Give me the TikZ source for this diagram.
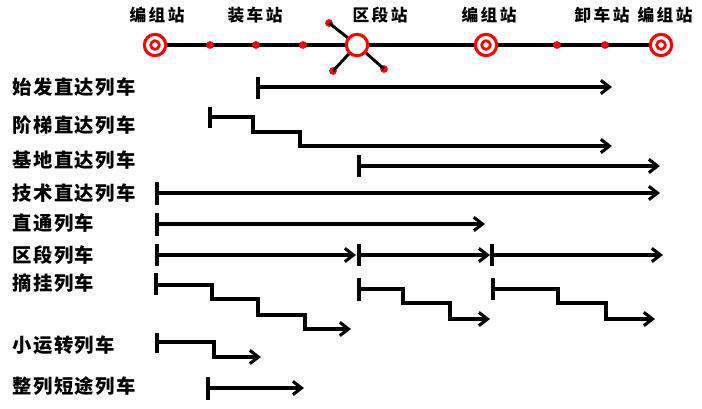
\documentclass[tikz,border=0pt]{standalone}
\usepackage{fontspec}
\newfontfamily\cjkrow{Noto Sans CJK SC}[LetterSpace=8]
\newfontfamily\cjktop{Noto Sans CJK SC}[LetterSpace=15]
\usetikzlibrary{arrows.meta}
\definecolor{stred}{RGB}{255,0,0}
\begin{document}
\begin{tikzpicture}[x=0.75pt,y=-0.75pt,
  rowlabel/.style={anchor=west,inner sep=0pt,font=\cjkrow\bfseries\fontsize{14.5pt}{16pt}\selectfont},
  toplabel/.style={inner sep=0pt,font=\cjktop\bfseries\fontsize{12.5pt}{14pt}\selectfont},
  trk/.style={line width=2.3pt,black},
  arr/.style={trk,-{Straight Barb[length=6.5pt,width=10pt]}},
  tickmark/.style={line width=2.6pt,black},
  reddot/.style={circle,fill=stred,draw=none,minimum size=5.8pt,inner sep=0pt},
  bigstn/.style={circle,draw=stred,line width=2.3pt,fill=white,minimum size=16pt,inner sep=0pt},
  innerstn/.style={circle,draw=stred,line width=2pt,fill=white,minimum size=6.5pt,inner sep=0pt}]
\useasboundingbox (0,0) rectangle (702,408);
% ---------- top line ----------
\coordinate (lineL) at (155,45);
\coordinate (lineR) at (661,45);
\draw[line width=2.6pt] (lineL) -- (lineR);
% spurs of district station
\node[reddot] (spA) at (329,23) {};
\node[reddot] (spB) at (333,71) {};
\node[reddot] (spC) at (384,69) {};
\coordinate (qd) at (357,45);
\draw[line width=2.2pt] (qd) -- (spA.center);
\draw[line width=2.2pt] (qd) -- (spB.center);
\draw[line width=2.2pt] (qd) -- (spC.center);
\node[bigstn] (qds) at (qd) {};
% intermediate stations
\node[reddot] (d1) at (210,45) {};
\node[reddot] (d2) at (256,45) {};
\node[reddot] (d3) at (303,45) {};
\node[reddot] (d4) at (557,45) {};
\node[reddot] (d5) at (605,45) {};
% marshalling stations
\node[bigstn] (bz1) at (155,45) {};
\node[innerstn] (bz1i) at (155,45) {};
\node[bigstn] (bz2) at (486,45) {};
\node[innerstn] (bz2i) at (486,45) {};
\node[bigstn] (bz3) at (661,45) {};
\node[innerstn] (bz3i) at (661,45) {};
% station labels
\node[toplabel] (t1) at (157,15) {编组站};
\node[toplabel] (t2) at (255,15) {装车站};
\node[toplabel] (t3) at (380,15) {区段站};
\node[toplabel] (t4) at (489,15) {编组站};
\node[toplabel] (t5) at (602,15) {卸车站};
\node[toplabel] (t6) at (665,15) {编组站};
% ---------- row labels ----------
\node[rowlabel] (r1) at (12,87) {始发直达列车};
\node[rowlabel] (r2) at (12,125) {阶梯直达列车};
\node[rowlabel] (r3) at (12,160) {基地直达列车};
\node[rowlabel] (r4) at (12,193) {技术直达列车};
\node[rowlabel] (r5) at (12,223) {直通列车};
\node[rowlabel] (r6) at (12,255) {区段列车};
\node[rowlabel] (r7) at (12,283) {摘挂列车};
\node[rowlabel] (r8) at (12,345) {小运转列车};
\node[rowlabel] (r9) at (12,386) {整列短途列车};
% ---------- trains ----------
% 始发直达
\draw[tickmark] (258,77) -- (258,99);
\draw[arr] (258,87) -- (612,87);
% 阶梯直达
\draw[tickmark] (210,107) -- (210,128);
\draw[arr] (210,117) -| (253,132) -| (300,146) -- (612,146);
% 基地直达
\draw[tickmark] (359,155) -- (359,177);
\draw[arr] (359,166) -- (660,166);
% 技术直达
\draw[tickmark] (157,182) -- (157,205);
\draw[arr] (157,193) -- (660,193);
% 直通
\draw[tickmark] (157,213) -- (157,236);
\draw[arr] (157,224) -- (485,224);
% 区段
\draw[tickmark] (157,244) -- (157,266);
\draw[tickmark] (359,244) -- (359,266);
\draw[tickmark] (492,244) -- (492,266);
\draw[arr] (157,255) -- (356,255);
\draw[arr] (359,255) -- (490,255);
\draw[arr] (492,255) -- (663,255);
% 摘挂
\draw[tickmark] (156,273) -- (156,295);
\draw[arr] (156,285) -| (212,299) -| (258,315) -| (305,329) -- (351,329);
\draw[tickmark] (359,278) -- (359,301);
\draw[arr] (359,289) -| (403,303) -| (450,319) -- (490,319);
\draw[tickmark] (493,278) -- (493,300);
\draw[arr] (493,289) -| (558,303) -| (606,319) -- (655,319);
% 小运转
\draw[tickmark] (157,333) -- (157,353);
\draw[arr] (157,342) -| (214,357) -- (261,357);
% 整列短途
\draw[tickmark] (208,377) -- (208,400);
\draw[arr] (208,388) -- (304,388);
\end{tikzpicture}
\end{document}
